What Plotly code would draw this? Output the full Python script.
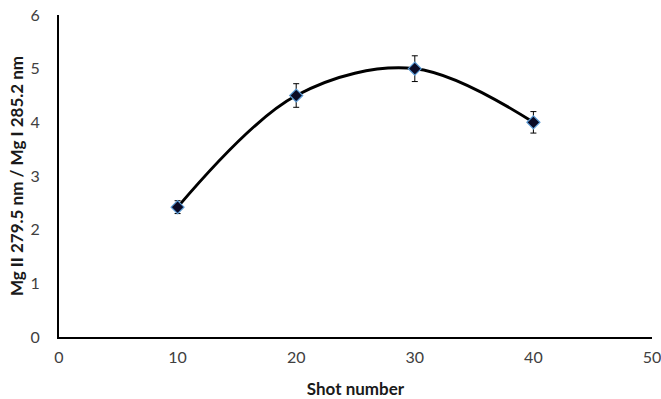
import plotly.graph_objects as go

shots = [10, 20, 30, 40]
ratio = [2.42, 4.50, 5.00, 4.00]
err = [0.12, 0.22, 0.24, 0.20]
x_ticks = [0, 10, 20, 30, 40, 50]
y_ticks = [0, 1, 2, 3, 4, 5, 6]

fig = go.Figure()
fig.add_trace(go.Scatter(
    x=shots, y=ratio, mode="lines",
    line=dict(color="black", width=3, shape="spline", smoothing=1.0),
    hoverinfo="skip", showlegend=False))
fig.add_trace(go.Scatter(
    x=shots, y=ratio, mode="markers",
    marker=dict(symbol="diamond", size=10, color="#0a0a25",
                line=dict(color="#5b9bd5", width=1.2)),
    error_y=dict(type="data", array=err, visible=True, color="black",
                 thickness=1, width=3),
    showlegend=False))

font_family = "Lato, 'Open Sans', sans-serif"
fig.update_layout(
    width=661, height=399,
    margin=dict(l=59, r=9, t=15, b=62),
    plot_bgcolor="white", paper_bgcolor="white",
    font=dict(family=font_family, size=16, color="#404040"),
    xaxis=dict(range=[0, 50], tickvals=x_ticks, showgrid=False, zeroline=False,
               showline=True, linecolor="black", linewidth=2, ticks="",
               automargin=False, ticklabelstandoff=5, ticklabeloverflow="allow",
               tickfont=dict(size=16, color="#404040"),
               title=dict(text="<b>Shot number</b>", font=dict(size=17, color="#1a1a1a"),
                          standoff=19)),
    yaxis=dict(range=[0, 6], tickvals=y_ticks, showgrid=False, zeroline=False,
               showline=True, linecolor="black", linewidth=2, ticks="",
               automargin=False, ticklabelstandoff=14, ticklabeloverflow="allow",
               tickfont=dict(size=16, color="#404040"),
               title=dict(text="<b>Mg II 279.5 nm / Mg I 285.2 nm</b>",
                          font=dict(size=17, color="#1a1a1a"), standoff=3)),
)
fig.write_html("out.html", config={"displayModeBar": False},
               post_script="document.body.style.margin='0';document.body.style.overflow='hidden';")
